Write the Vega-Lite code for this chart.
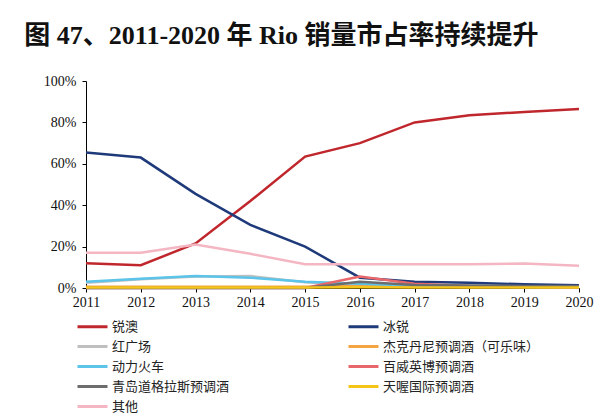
{
  "$schema": "https://vega.github.io/schema/vega-lite/v6.json",
  "width": 493,
  "height": 207,
  "padding": {"left": 24, "top": 23, "right": 30, "bottom": 0},
  "background": "white",
  "title": {
    "text": "图 47、2011-2020 年 Rio 销量市占率持续提升",
    "anchor": "start",
    "frame": "bounds",
    "font": "Liberation Serif, Noto Sans CJK SC",
    "fontSize": 26,
    "fontWeight": "bold",
    "color": "#111111",
    "dx": -19,
    "offset": 25
  },
  "data": {
    "values": [
      {"year": "2011", "brand": "锐澳", "share": 12},
      {"year": "2012", "brand": "锐澳", "share": 11},
      {"year": "2013", "brand": "锐澳", "share": 21.5},
      {"year": "2014", "brand": "锐澳", "share": 42},
      {"year": "2015", "brand": "锐澳", "share": 63.5},
      {"year": "2016", "brand": "锐澳", "share": 70},
      {"year": "2017", "brand": "锐澳", "share": 80},
      {"year": "2018", "brand": "锐澳", "share": 83.5},
      {"year": "2019", "brand": "锐澳", "share": 85},
      {"year": "2020", "brand": "锐澳", "share": 86.5},
      {"year": "2011", "brand": "冰锐", "share": 65.5},
      {"year": "2012", "brand": "冰锐", "share": 63},
      {"year": "2013", "brand": "冰锐", "share": 45.5},
      {"year": "2014", "brand": "冰锐", "share": 30.5},
      {"year": "2015", "brand": "冰锐", "share": 20},
      {"year": "2016", "brand": "冰锐", "share": 5},
      {"year": "2017", "brand": "冰锐", "share": 3},
      {"year": "2018", "brand": "冰锐", "share": 2.5},
      {"year": "2019", "brand": "冰锐", "share": 1.8},
      {"year": "2020", "brand": "冰锐", "share": 1.3},
      {"year": "2011", "brand": "红广场", "share": 2.5},
      {"year": "2012", "brand": "红广场", "share": 4.2},
      {"year": "2013", "brand": "红广场", "share": 5.5},
      {"year": "2014", "brand": "红广场", "share": 5.8},
      {"year": "2015", "brand": "红广场", "share": 2.8},
      {"year": "2016", "brand": "红广场", "share": 1.5},
      {"year": "2017", "brand": "红广场", "share": 0.8},
      {"year": "2018", "brand": "红广场", "share": 0.5},
      {"year": "2019", "brand": "红广场", "share": 0.4},
      {"year": "2020", "brand": "红广场", "share": 0.3},
      {"year": "2011", "brand": "杰克丹尼预调酒（可乐味）", "share": 0.6},
      {"year": "2012", "brand": "杰克丹尼预调酒（可乐味）", "share": 0.6},
      {"year": "2013", "brand": "杰克丹尼预调酒（可乐味）", "share": 0.6},
      {"year": "2014", "brand": "杰克丹尼预调酒（可乐味）", "share": 0.6},
      {"year": "2015", "brand": "杰克丹尼预调酒（可乐味）", "share": 0.6},
      {"year": "2016", "brand": "杰克丹尼预调酒（可乐味）", "share": 1},
      {"year": "2017", "brand": "杰克丹尼预调酒（可乐味）", "share": 0.8},
      {"year": "2018", "brand": "杰克丹尼预调酒（可乐味）", "share": 0.7},
      {"year": "2019", "brand": "杰克丹尼预调酒（可乐味）", "share": 0.6},
      {"year": "2020", "brand": "杰克丹尼预调酒（可乐味）", "share": 0.6},
      {"year": "2011", "brand": "动力火车", "share": 3},
      {"year": "2012", "brand": "动力火车", "share": 4.5},
      {"year": "2013", "brand": "动力火车", "share": 5.8},
      {"year": "2014", "brand": "动力火车", "share": 5},
      {"year": "2015", "brand": "动力火车", "share": 3},
      {"year": "2016", "brand": "动力火车", "share": 2},
      {"year": "2017", "brand": "动力火车", "share": 1.2},
      {"year": "2018", "brand": "动力火车", "share": 1},
      {"year": "2019", "brand": "动力火车", "share": 0.8},
      {"year": "2020", "brand": "动力火车", "share": 0.8},
      {"year": "2011", "brand": "百威英博预调酒", "share": 0},
      {"year": "2012", "brand": "百威英博预调酒", "share": 0},
      {"year": "2013", "brand": "百威英博预调酒", "share": 0},
      {"year": "2014", "brand": "百威英博预调酒", "share": 0},
      {"year": "2015", "brand": "百威英博预调酒", "share": 0},
      {"year": "2016", "brand": "百威英博预调酒", "share": 5.5},
      {"year": "2017", "brand": "百威英博预调酒", "share": 2},
      {"year": "2018", "brand": "百威英博预调酒", "share": 1},
      {"year": "2019", "brand": "百威英博预调酒", "share": 0.6},
      {"year": "2020", "brand": "百威英博预调酒", "share": 0.4},
      {"year": "2011", "brand": "青岛道格拉斯预调酒", "share": 0},
      {"year": "2012", "brand": "青岛道格拉斯预调酒", "share": 0},
      {"year": "2013", "brand": "青岛道格拉斯预调酒", "share": 0},
      {"year": "2014", "brand": "青岛道格拉斯预调酒", "share": 0},
      {"year": "2015", "brand": "青岛道格拉斯预调酒", "share": 0},
      {"year": "2016", "brand": "青岛道格拉斯预调酒", "share": 3},
      {"year": "2017", "brand": "青岛道格拉斯预调酒", "share": 1.5},
      {"year": "2018", "brand": "青岛道格拉斯预调酒", "share": 1.2},
      {"year": "2019", "brand": "青岛道格拉斯预调酒", "share": 1},
      {"year": "2020", "brand": "青岛道格拉斯预调酒", "share": 1},
      {"year": "2011", "brand": "天喔国际预调酒", "share": 0.2},
      {"year": "2012", "brand": "天喔国际预调酒", "share": 0.2},
      {"year": "2013", "brand": "天喔国际预调酒", "share": 0.2},
      {"year": "2014", "brand": "天喔国际预调酒", "share": 0.2},
      {"year": "2015", "brand": "天喔国际预调酒", "share": 0.2},
      {"year": "2016", "brand": "天喔国际预调酒", "share": 0.4},
      {"year": "2017", "brand": "天喔国际预调酒", "share": 0.3},
      {"year": "2018", "brand": "天喔国际预调酒", "share": 0.3},
      {"year": "2019", "brand": "天喔国际预调酒", "share": 0.3},
      {"year": "2020", "brand": "天喔国际预调酒", "share": 0.3},
      {"year": "2011", "brand": "其他", "share": 17},
      {"year": "2012", "brand": "其他", "share": 17},
      {"year": "2013", "brand": "其他", "share": 21},
      {"year": "2014", "brand": "其他", "share": 16.5},
      {"year": "2015", "brand": "其他", "share": 11.5},
      {"year": "2016", "brand": "其他", "share": 11.5},
      {"year": "2017", "brand": "其他", "share": 11.5},
      {"year": "2018", "brand": "其他", "share": 11.5},
      {"year": "2019", "brand": "其他", "share": 11.8},
      {"year": "2020", "brand": "其他", "share": 10.8}
    ]
  },
  "mark": {"type": "line", "strokeWidth": 2.5},
  "encoding": {
    "x": {
      "field": "year",
      "type": "ordinal",
      "scale": {"type": "point", "padding": 0},
      "axis": {
        "title": null,
        "labelAngle": 0,
        "labelFont": "Liberation Serif",
        "labelFontSize": 14,
        "labelColor": "#111111",
        "domainColor": "#000000",
        "tickColor": "#000000",
        "tickSize": 4,
        "labelPadding": 3,
        "grid": false
      }
    },
    "y": {
      "field": "share",
      "type": "quantitative",
      "scale": {"domain": [0, 100]},
      "axis": {
        "title": null,
        "values": [0, 20, 40, 60, 80, 100],
        "labelExpr": "datum.value + '%'",
        "labelFont": "Liberation Serif",
        "labelFontSize": 14,
        "labelColor": "#111111",
        "domainColor": "#000000",
        "tickColor": "#000000",
        "tickSize": 4,
        "labelPadding": 6,
        "grid": false
      }
    },
    "color": {
      "field": "brand",
      "type": "nominal",
      "sort": null,
      "scale": {
        "domain": ["锐澳", "冰锐", "红广场", "杰克丹尼预调酒（可乐味）", "动力火车", "百威英博预调酒", "青岛道格拉斯预调酒", "天喔国际预调酒", "其他"],
        "range": ["#C0272D", "#1F3A7A", "#BFBFBF", "#F4A443", "#5BC4E8", "#E8676B", "#6D6D6D", "#F5C518", "#F4B6C2"]
      },
      "legend": {
        "title": null,
        "orient": "none",
        "legendX": 0,
        "legendY": 239,
        "direction": "horizontal",
        "columns": 2,
        "symbolType": "M-3,0H3",
        "symbolStrokeWidth": 3,
        "symbolSize": 100,
        "labelOffset": 13,
        "labelFont": "Noto Sans CJK SC",
        "labelFontSize": 13,
        "labelColor": "#222222",
        "labelLimit": 300,
        "rowPadding": 6,
        "columnPadding": 112,
        "padding": 0
      }
    }
  },
  "config": {
    "view": {"stroke": null}
  }
}
